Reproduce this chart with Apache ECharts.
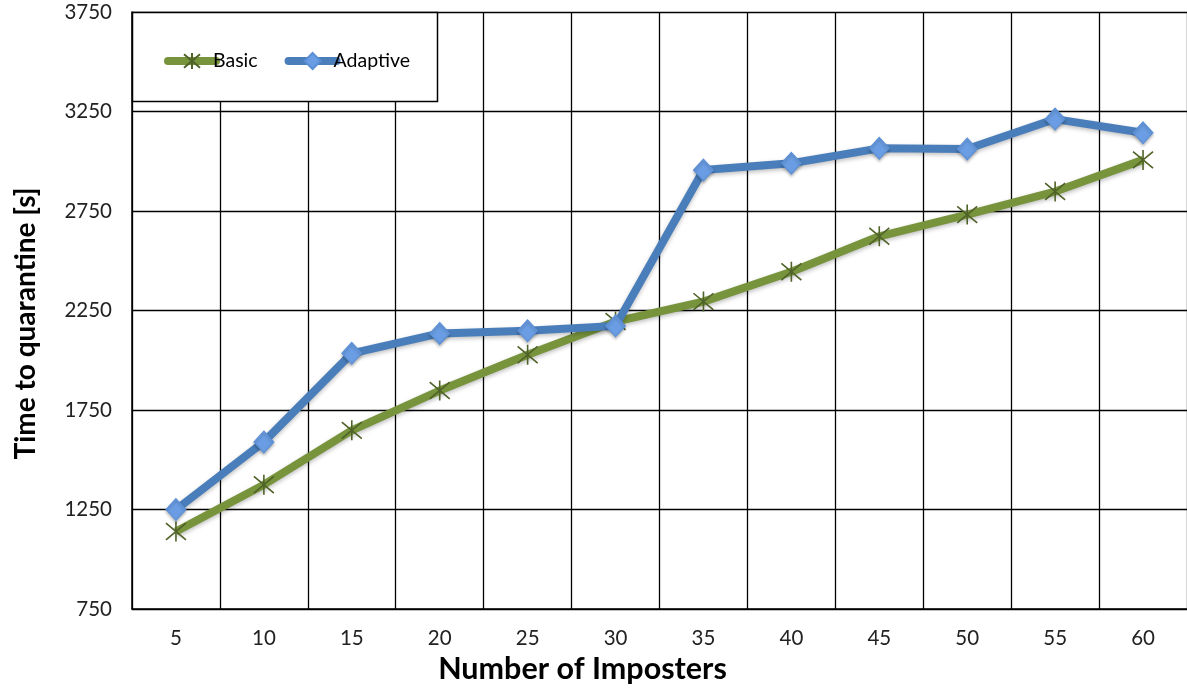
<!DOCTYPE html>
<html>
<head>
<meta charset="utf-8">
<script src="https://cdn.jsdelivr.net/npm/echarts@6/dist/echarts.min.js"></script>
<style>html,body{margin:0;padding:0;background:#fff}#c{width:1187px;height:690px}</style>
</head>
<body>
<div id="c"></div>
<script>
const categories = ['5','10','15','20','25','30','35','40','45','50','55','60'];
const basic = [1140, 1375, 1648, 1848, 2028, 2195, 2295, 2445, 2623, 2732, 2848, 3007];
const adaptive = [1250, 1590, 2035, 2135, 2148, 2173, 2956, 2990, 3065, 3062, 3212, 3143];
const yTicks = { min: 750, max: 3750, step: 500 };

const FONT = 'Lato, "Open Sans", sans-serif';
const asterisk = 'path://M0,0L20,20M20,0L0,20M10,-2L10,22';

const chart = echarts.init(document.getElementById('c'), null, { renderer: 'canvas' });
chart.setOption({
  animation: false,
  backgroundColor: '#ffffff',
  grid: { left: 132, top: 12, width: 1059, height: 601, containLabel: false },
  xAxis: {
    type: 'category',
    data: categories,
    boundaryGap: true,
    name: 'Number of Imposters',
    nameLocation: 'middle',
    nameGap: 44,
    nameTextStyle: { fontFamily: FONT, fontWeight: 'bold', fontSize: 30.5, color: '#000', padding: [0, 154, 0, 0] },
    axisLine: { show: true, lineStyle: { color: '#000', width: 1.5 } },
    axisTick: { show: false },
    axisLabel: { fontFamily: FONT, fontSize: 20.5, color: '#222', margin: 19 },
    splitLine: { show: true, lineStyle: { color: '#000', width: 1.3 } }
  },
  yAxis: {
    type: 'value',
    min: yTicks.min,
    max: yTicks.max,
    interval: yTicks.step,
    name: 'Time to quarantine [s]',
    nameLocation: 'middle',
    nameGap: 92,
    nameRotate: 90,
    nameTextStyle: { fontFamily: FONT, fontWeight: 'bold', fontSize: 28, color: '#000', padding: [0, 26, 0, 0] },
    axisLine: { show: true, lineStyle: { color: '#000', width: 1.5 } },
    axisTick: { show: false },
    axisLabel: { fontFamily: FONT, fontSize: 20.5, color: '#222', margin: 20, formatter: v => String(v) },
    splitLine: { show: true, lineStyle: { color: '#000', width: 1.3 } }
  },
  legend: {
    left: 159,
    top: 46,
    z: 10,
    itemWidth: 48,
    itemHeight: 20,
    itemGap: 27,
    lineStyle: { width: 8, cap: 'round' },
    textStyle: { fontFamily: FONT, fontSize: 19.5, color: '#000', padding: [0, 0, 0, -8] },
    data: ['Basic', 'Adaptive']
  },
  graphic: [{
    type: 'rect',
    z: 5,
    shape: { x: 132.5, y: 12.5, width: 305, height: 89 },
    style: { fill: '#fff', stroke: '#000', lineWidth: 1.5 }
  }],
  series: [
    {
      name: 'Basic',
      type: 'line',
      data: basic,
      z: 3,
      symbol: asterisk,
      symbolSize: 20,
      lineStyle: { color: '#77933c', width: 8, shadowColor: 'rgba(0,0,0,0.25)', shadowBlur: 4, shadowOffsetY: 2 },
      itemStyle: { color: 'rgba(0,0,0,0)', borderColor: '#4f6228', borderWidth: 1.6 }
    },
    {
      name: 'Adaptive',
      type: 'line',
      data: adaptive,
      z: 4,
      symbol: 'diamond',
      symbolSize: [20, 22],
      lineStyle: { color: '#4a7ebb', width: 8, shadowColor: 'rgba(0,0,0,0.25)', shadowBlur: 4, shadowOffsetY: 2 },
      itemStyle: { color: '#6a9de3', borderColor: '#5a8fd6', borderWidth: 1, shadowColor: 'rgba(0,0,0,0.25)', shadowBlur: 3, shadowOffsetY: 2 }
    }
  ]
});
</script>
</body>
</html>
